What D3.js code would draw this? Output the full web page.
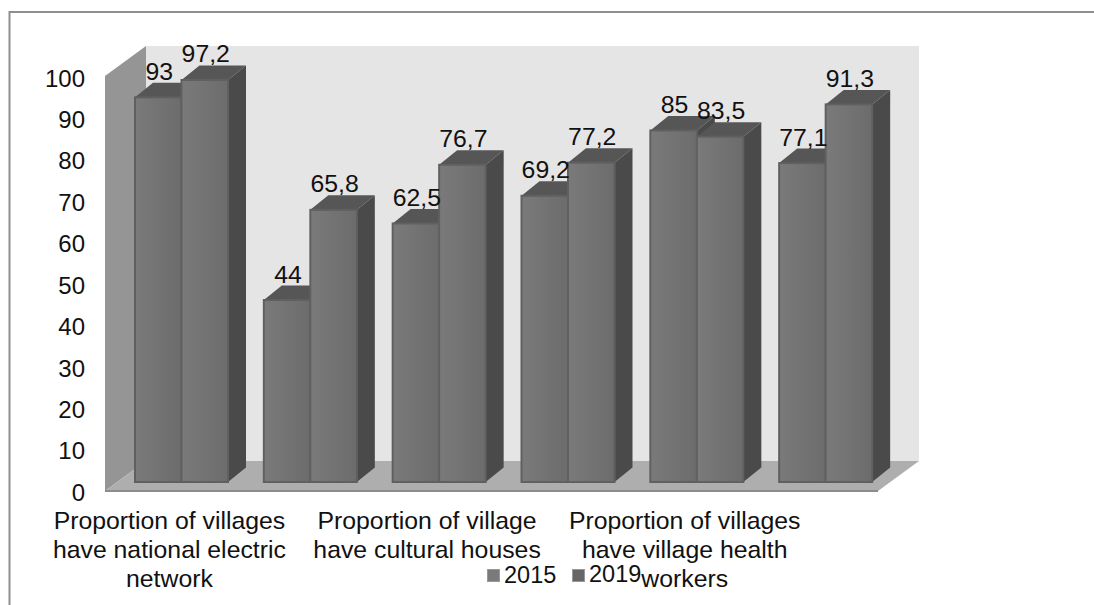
<!DOCTYPE html>
<html>
<head>
<meta charset="utf-8">
<script src="https://cdn.jsdelivr.net/npm/d3@7"></script>
<style>
  html, body { margin: 0; padding: 0; background: #fff; }
  svg { display: block; }
  text { font-family: "Liberation Sans", Arial, sans-serif; font-size: 24.8px; fill: #111; }
</style>
</head>
<body>
<div id="graphic"></div>
<script>
const categories = [
  ["Proportion of villages", "have national electric", "network"],
  [],
  ["Proportion of village", "have cultural houses"],
  [],
  ["Proportion of villages", "have village health", "workers"],
  []
];
const seriesNames = ["2015", "2019"];
const values2015 = [93, 44, 62.5, 69.2, 85, 77.1];
const values2019 = [97.2, 65.8, 76.7, 77.2, 83.5, 91.3];
const yTicks = [0, 10, 20, 30, 40, 50, 60, 70, 80, 90, 100];

const width = 1094;
const height = 605;

const svg = d3.select('#graphic').append('svg')
  .attr('width', width)
  .attr('height', height);

const scaleX = d3.scaleBand().domain(d3.range(categories.length)).range([105, 878]);
const scaleY = d3.scaleLinear().domain([0, 100]).range([491, 76]);
const scaleBar = d3.scaleBand().domain([0, 1]).range([0, 93]);
// bars stand further back than the front of the walls, so they run a little shorter
const scaleBarY = d3.scaleLinear().domain([0, 100]).range([482, 68.4]);
const scaleTicks = d3.scaleLinear().domain([0, 100]).range([491.7, 77.5]);

// 3d offsets
const wallDx = 41, wallDy = -30;
const barShiftX = 30;
const barDx = 18, barDy = -14.5;

const poly = pts => pts.map(p => p.join(',')).join(' ');
const x0 = scaleX.range()[0], x1 = scaleX.range()[1];
const y0 = scaleY(0), y100 = scaleY(100);

const grad = svg.append('defs').append('linearGradient').attr('id', 'barFront');
grad.append('stop').attr('offset', '0%').attr('stop-color', '#7a7a7a');
grad.append('stop').attr('offset', '100%').attr('stop-color', '#6c6c6c');

// frame
svg.append('path')
  .attr('d', `M9.5,${height}V12H${width}`)
  .attr('fill', 'none')
  .attr('stroke', '#8e8e8e')
  .attr('stroke-width', 2);

// back wall, left wall, floor
svg.append('polygon')
  .attr('points', poly([[x0 + wallDx, y100 + wallDy], [x1 + wallDx, y100 + wallDy], [x1 + wallDx, y0 + wallDy], [x0 + wallDx, y0 + wallDy]]))
  .attr('fill', '#e5e5e5');
svg.append('polygon')
  .attr('points', poly([[x0, y100], [x0 + wallDx, y100 + wallDy], [x0 + wallDx, y0 + wallDy], [x0, y0]]))
  .attr('fill', '#959595');
svg.append('polygon')
  .attr('points', poly([[x0 + wallDx, y0 + wallDy], [x1 + wallDx, y0 + wallDy], [x1, y0], [x0, y0]]))
  .attr('fill', '#aeaeae');
svg.append('line')
  .attr('x1', x0).attr('x2', x1)
  .attr('y1', y0).attr('y2', y0)
  .attr('stroke', '#8c8c8c')
  .attr('stroke-width', 2);

// bars
const rows = [];
categories.forEach((c, i) => {
  rows.push({ cat: i, s: 0, v: values2015[i] });
  rows.push({ cat: i, s: 1, v: values2019[i] });
});
const barLeft = d => scaleX(d.cat) + barShiftX + scaleBar(d.s);
const barRight = d => barLeft(d) + scaleBar.bandwidth();
const barTop = d => scaleBarY(d.v);
const barBase = scaleBarY(0);

const bars = svg.selectAll('g.bar').data(rows).enter().append('g').attr('class', 'bar');

bars.append('polygon')
  .attr('points', d => poly([[barRight(d), barTop(d)], [barRight(d) + barDx, barTop(d) + barDy], [barRight(d) + barDx, barBase + barDy], [barRight(d), barBase]]))
  .attr('fill', '#4a4a4a');
bars.append('polygon')
  .attr('points', d => poly([[barLeft(d), barTop(d)], [barLeft(d) + barDx, barTop(d) + barDy], [barRight(d) + barDx, barTop(d) + barDy], [barRight(d), barTop(d)]]))
  .attr('fill', '#565656');
bars.append('rect')
  .attr('x', barLeft)
  .attr('y', barTop)
  .attr('width', scaleBar.bandwidth())
  .attr('height', d => barBase - barTop(d))
  .attr('fill', 'url(#barFront)')
  .attr('stroke', '#606060')
  .attr('stroke-width', 2);

// value labels
svg.selectAll('text.value').data(rows).enter().append('text')
  .attr('class', 'value')
  .attr('text-anchor', 'middle')
  .attr('x', d => barLeft(d) + scaleBar.bandwidth() / 2 + 1)
  .attr('y', d => barTop(d) + barDy - 3)
  .text(d => String(d.v).replace('.', ','));

// y axis
const axisY = d3.axisLeft(scaleTicks).tickValues(yTicks).tickSize(0).tickPadding(0);
const axisG = svg.append('g')
  .attr('transform', `translate(${x0 - 20},0)`)
  .call(axisY);
axisG.select('.domain').remove();
axisG.selectAll('text')
  .attr('x', 0)
  .attr('dy', '0.36em')
  .style('font-size', '24px')
  .style('font-family', '"Liberation Sans", Arial, sans-serif')
  .style('fill', '#111');

// category labels
const catLabels = svg.selectAll('g.cat').data(categories).enter().append('g').attr('class', 'cat');
catLabels.selectAll('text')
  .data((d, i) => d.map((line, j) => ({ line, j, i })))
  .enter().append('text')
  .attr('text-anchor', 'middle')
  .attr('x', d => scaleX(d.i) + scaleX.bandwidth() / 2)
  .attr('y', d => 528.5 + d.j * 29.3)
  .text(d => d.line);

// legend
const legendX = d3.scalePoint().domain(seriesNames).range([487, 572]);
const legendFill = ['#7a7a7a', '#666666'];
const legend = svg.selectAll('g.legend').data(seriesNames).enter().append('g')
  .attr('class', 'legend')
  .attr('transform', d => `translate(${legendX(d)},0)`);
legend.append('rect')
  .attr('x', 0.5).attr('y', 569.5)
  .attr('width', 12).attr('height', 12)
  .attr('fill', (d, i) => legendFill[i])
  .attr('stroke', '#999');
legend.append('text')
  .attr('x', 17)
  .attr('y', (d, i) => 583 - i)
  .style('font-size', '23.5px')
  .text(d => d);
</script>
</body>
</html>
